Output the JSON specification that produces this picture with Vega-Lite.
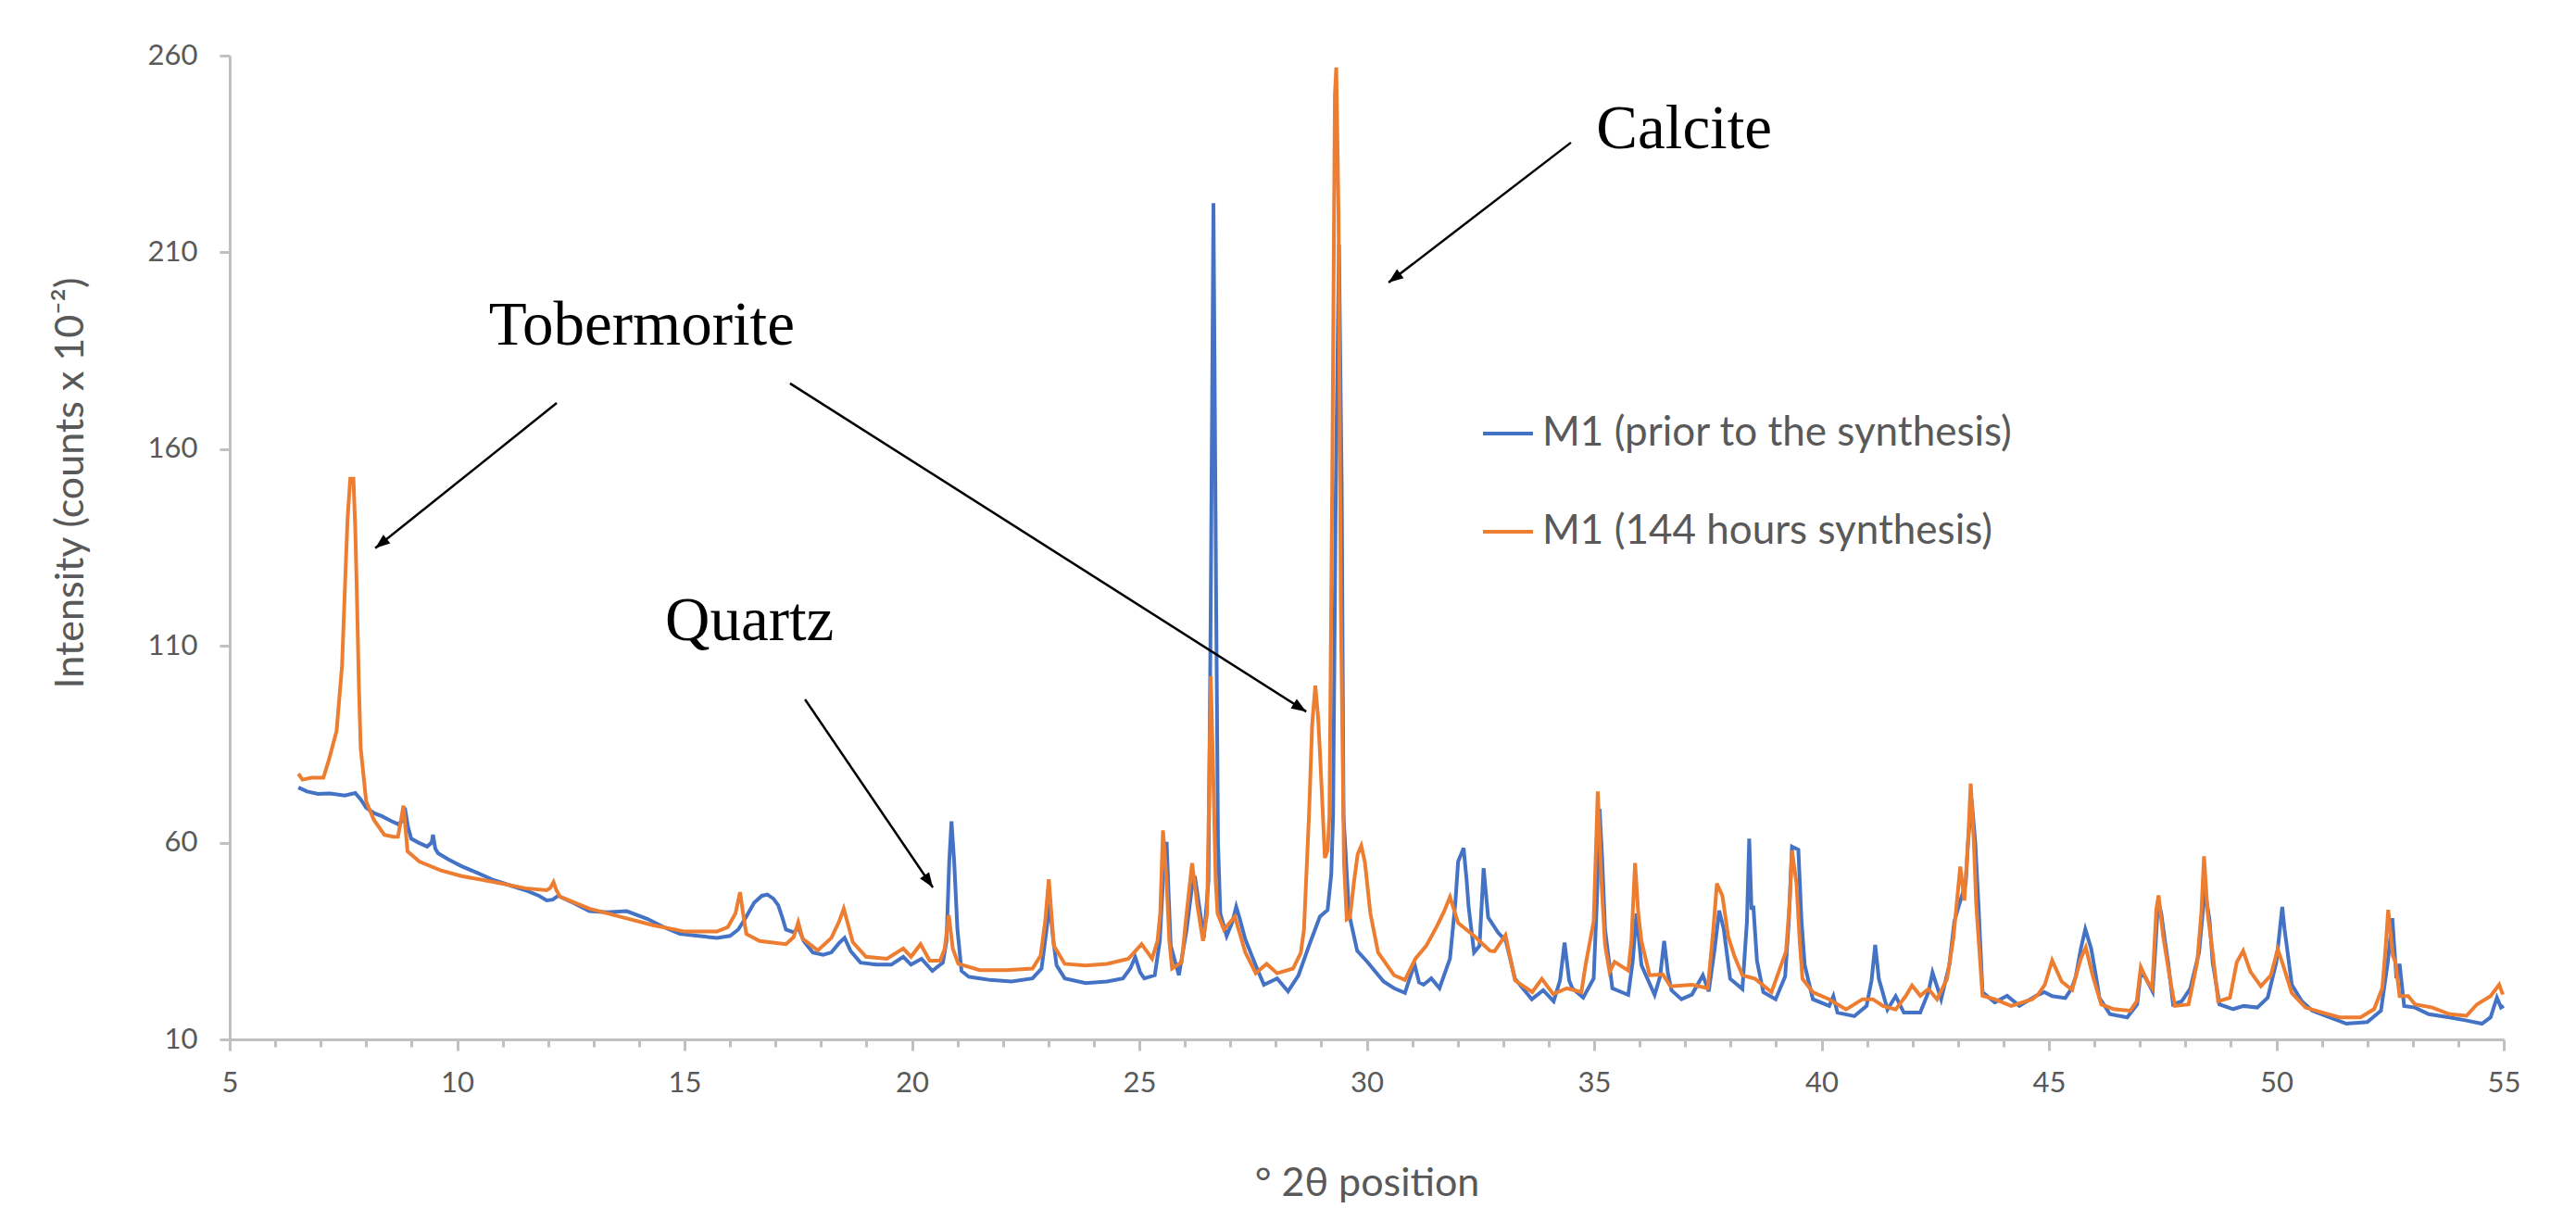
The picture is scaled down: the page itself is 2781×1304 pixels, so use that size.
{
"$schema": "https://vega.github.io/schema/vega-lite/v6.json",
"width": 2455, "height": 1062,
"autosize": {"type": "none"},
"padding": {"left": 248, "top": 60, "right": 78, "bottom": 182},
"background": "white",
"config": {"view": {"stroke": null}, "font": "Lato"},
"datasets": {
"prior": [
{"theta":6.51,"intensity":74},{"theta":6.7,"intensity":73},{"theta":6.94,"intensity":72.4},{"theta":7.2,"intensity":72.5},{"theta":7.53,"intensity":72},{"theta":7.76,"intensity":72.6},{"theta":7.88,"intensity":71},{"theta":8.0,"intensity":68.9},{"theta":8.17,"intensity":67.5},{"theta":8.35,"intensity":66.7},{"theta":8.55,"intensity":65.5},{"theta":8.7,"intensity":64.7},{"theta":8.8,"intensity":65.5},{"theta":8.85,"intensity":68.9},{"theta":8.92,"intensity":64},{"theta":8.99,"intensity":61},{"theta":9.15,"intensity":60},{"theta":9.34,"intensity":59},{"theta":9.44,"intensity":60},{"theta":9.47,"intensity":62},{"theta":9.52,"intensity":58.5},{"theta":9.58,"intensity":57.3},{"theta":9.8,"intensity":55.8},{"theta":10.1,"intensity":54},{"theta":10.45,"intensity":52.3},{"theta":10.8,"intensity":50.5},{"theta":11.15,"intensity":49.2},{"theta":11.5,"intensity":47.9},{"theta":11.8,"intensity":46.5},{"theta":11.97,"intensity":45.3},{"theta":12.1,"intensity":45.5},{"theta":12.22,"intensity":46.5},{"theta":12.5,"intensity":45},{"theta":12.91,"intensity":42.6},{"theta":13.3,"intensity":42.3},{"theta":13.73,"intensity":42.6},{"theta":14.19,"intensity":40.6},{"theta":14.55,"intensity":38.5},{"theta":14.9,"intensity":36.8},{"theta":15.3,"intensity":36.3},{"theta":15.71,"intensity":35.8},{"theta":16.0,"intensity":36.3},{"theta":16.18,"intensity":37.9},{"theta":16.35,"intensity":41},{"theta":16.53,"intensity":44.7},{"theta":16.7,"intensity":46.5},{"theta":16.82,"intensity":46.8},{"theta":16.95,"intensity":45.8},{"theta":17.06,"intensity":44.1},{"theta":17.15,"intensity":41},{"theta":17.23,"intensity":37.9},{"theta":17.4,"intensity":37.2},{"theta":17.5,"intensity":38.5},{"theta":17.62,"intensity":35},{"theta":17.82,"intensity":32.1},{"theta":18.05,"intensity":31.5},{"theta":18.23,"intensity":32.1},{"theta":18.4,"intensity":34.5},{"theta":18.52,"intensity":35.8},{"theta":18.65,"intensity":32.5},{"theta":18.87,"intensity":29.5},{"theta":19.22,"intensity":29},{"theta":19.55,"intensity":29},{"theta":19.81,"intensity":31},{"theta":19.98,"intensity":29},{"theta":20.21,"intensity":30.5},{"theta":20.45,"intensity":27.4},{"theta":20.68,"intensity":29.5},{"theta":20.76,"intensity":35},{"theta":20.82,"intensity":55},{"theta":20.87,"intensity":65.4},{"theta":20.93,"intensity":55},{"theta":21.0,"intensity":38},{"theta":21.09,"intensity":27.4},{"theta":21.25,"intensity":25.9},{"theta":21.5,"intensity":25.5},{"theta":21.72,"intensity":25.1},{"theta":22.19,"intensity":24.7},{"theta":22.65,"intensity":25.5},{"theta":22.85,"intensity":28},{"theta":22.95,"intensity":37},{"theta":23.03,"intensity":44.5},{"theta":23.1,"intensity":36},{"theta":23.18,"intensity":28.8},{"theta":23.36,"intensity":25.5},{"theta":23.82,"intensity":24.3},{"theta":24.29,"intensity":24.7},{"theta":24.64,"intensity":25.5},{"theta":24.8,"intensity":28},{"theta":24.91,"intensity":30.9},{"theta":25.02,"intensity":27},{"theta":25.11,"intensity":25.5},{"theta":25.34,"intensity":26.3},{"theta":25.45,"intensity":35},{"theta":25.52,"intensity":50.3},{"theta":25.6,"intensity":60.2},{"theta":25.65,"intensity":45},{"theta":25.69,"intensity":33.8},{"theta":25.87,"intensity":26.3},{"theta":26.04,"intensity":37.9},{"theta":26.15,"intensity":48},{"theta":26.22,"intensity":51.5},{"theta":26.34,"intensity":42},{"theta":26.42,"intensity":35.8},{"theta":26.52,"intensity":50.3},{"theta":26.57,"intensity":120},{"theta":26.63,"intensity":222.5},{"theta":26.69,"intensity":120},{"theta":26.73,"intensity":60},{"theta":26.78,"intensity":42},{"theta":26.92,"intensity":36.3},{"theta":27.05,"intensity":40},{"theta":27.13,"intensity":43.7},{"theta":27.2,"intensity":41},{"theta":27.33,"intensity":35.4},{"theta":27.56,"intensity":28.8},{"theta":27.74,"intensity":23.9},{"theta":28.03,"intensity":25.5},{"theta":28.27,"intensity":22.2},{"theta":28.5,"intensity":26.3},{"theta":28.73,"intensity":33.8},{"theta":28.97,"intensity":41.2},{"theta":29.14,"intensity":42.9},{"theta":29.22,"intensity":52},{"theta":29.26,"intensity":66.8},{"theta":29.32,"intensity":150},{"theta":29.39,"intensity":212},{"theta":29.45,"intensity":150},{"theta":29.49,"intensity":66.8},{"theta":29.61,"intensity":42},{"theta":29.79,"intensity":32.5},{"theta":30.02,"intensity":29.6},{"theta":30.37,"intensity":24.7},{"theta":30.6,"intensity":23},{"theta":30.84,"intensity":21.8},{"theta":31.05,"intensity":29.2},{"theta":31.15,"intensity":24.5},{"theta":31.25,"intensity":23.9},{"theta":31.42,"intensity":25.5},{"theta":31.6,"intensity":23},{"theta":31.83,"intensity":30.5},{"theta":31.95,"intensity":45},{"theta":32.01,"intensity":55.2},{"theta":32.13,"intensity":58.6},{"theta":32.2,"intensity":50},{"theta":32.24,"intensity":43.7},{"theta":32.36,"intensity":32.1},{"theta":32.48,"intensity":33.8},{"theta":32.57,"intensity":53.5},{"theta":32.67,"intensity":41},{"theta":32.89,"intensity":37.1},{"theta":33.06,"intensity":35},{"theta":33.26,"intensity":25.4},{"theta":33.63,"intensity":20.2},{"theta":33.88,"intensity":22.5},{"theta":34.11,"intensity":19.7},{"theta":34.25,"intensity":25},{"theta":34.35,"intensity":34.6},{"theta":34.45,"intensity":25},{"theta":34.52,"intensity":23},{"theta":34.76,"intensity":20.6},{"theta":34.99,"intensity":25.5},{"theta":35.06,"intensity":45},{"theta":35.12,"intensity":68.6},{"theta":35.18,"intensity":55},{"theta":35.24,"intensity":38},{"theta":35.4,"intensity":23},{"theta":35.75,"intensity":21.3},{"theta":35.85,"intensity":30},{"theta":35.93,"intensity":42},{"theta":36.04,"intensity":28.9},{"theta":36.33,"intensity":21.3},{"theta":36.45,"intensity":26},{"theta":36.54,"intensity":35},{"theta":36.62,"intensity":27},{"theta":36.7,"intensity":22.5},{"theta":36.92,"intensity":20.2},{"theta":37.15,"intensity":21.4},{"theta":37.39,"intensity":26.3},{"theta":37.52,"intensity":22.2},{"theta":37.65,"intensity":33},{"theta":37.75,"intensity":42.7},{"theta":37.85,"intensity":38},{"theta":37.99,"intensity":25.4},{"theta":38.26,"intensity":22.8},{"theta":38.36,"intensity":40},{"theta":38.41,"intensity":61},{"theta":38.46,"intensity":43},{"theta":38.5,"intensity":44},{"theta":38.58,"intensity":30},{"theta":38.72,"intensity":22},{"theta":38.99,"intensity":20.2},{"theta":39.2,"intensity":26},{"theta":39.28,"intensity":40},{"theta":39.35,"intensity":59},{"theta":39.49,"intensity":58.2},{"theta":39.56,"intensity":40},{"theta":39.63,"intensity":28.9},{"theta":39.81,"intensity":20.2},{"theta":40.17,"intensity":18.5},{"theta":40.26,"intensity":21},{"theta":40.35,"intensity":16.8},{"theta":40.72,"intensity":15.9},{"theta":40.99,"intensity":18.5},{"theta":41.1,"intensity":25},{"theta":41.18,"intensity":34},{"theta":41.26,"intensity":25.4},{"theta":41.45,"intensity":17.6},{"theta":41.63,"intensity":21},{"theta":41.81,"intensity":16.8},{"theta":42.17,"intensity":16.8},{"theta":42.35,"intensity":22},{"theta":42.44,"intensity":27},{"theta":42.63,"intensity":20.2},{"theta":42.81,"intensity":28.9},{"theta":42.92,"intensity":40},{"theta":43.03,"intensity":44.4},{"theta":43.17,"intensity":49.6},{"theta":43.22,"intensity":60},{"theta":43.3,"intensity":71},{"theta":43.38,"intensity":60},{"theta":43.45,"intensity":44.4},{"theta":43.54,"intensity":22},{"theta":43.81,"intensity":19.4},{"theta":44.08,"intensity":21.1},{"theta":44.35,"intensity":18.5},{"theta":44.72,"intensity":21.1},{"theta":44.9,"intensity":22},{"theta":45.07,"intensity":21},{"theta":45.36,"intensity":20.5},{"theta":45.5,"intensity":23},{"theta":45.59,"intensity":26},{"theta":45.7,"intensity":33},{"theta":45.8,"intensity":38},{"theta":45.93,"intensity":33},{"theta":46.05,"intensity":25},{"theta":46.11,"intensity":20.6},{"theta":46.34,"intensity":16.4},{"theta":46.72,"intensity":15.6},{"theta":46.94,"intensity":18.9},{"theta":47.02,"intensity":27.2},{"theta":47.13,"intensity":25.5},{"theta":47.28,"intensity":22.2},{"theta":47.35,"intensity":35},{"theta":47.4,"intensity":45.3},{"theta":47.47,"intensity":42},{"theta":47.55,"intensity":35},{"theta":47.62,"intensity":29.6},{"theta":47.73,"intensity":18.9},{"theta":47.92,"intensity":19.7},{"theta":48.11,"intensity":23},{"theta":48.3,"intensity":32.1},{"theta":48.38,"intensity":42},{"theta":48.43,"intensity":47.8},{"theta":48.53,"intensity":40.4},{"theta":48.6,"intensity":29.6},{"theta":48.75,"intensity":18.9},{"theta":49.05,"intensity":17.7},{"theta":49.28,"intensity":18.5},{"theta":49.58,"intensity":18.1},{"theta":49.81,"intensity":20.6},{"theta":50.0,"intensity":29.6},{"theta":50.13,"intensity":43.7},{"theta":50.18,"intensity":38},{"theta":50.22,"intensity":34.6},{"theta":50.34,"intensity":23.9},{"theta":50.56,"intensity":19.7},{"theta":50.79,"intensity":17.3},{"theta":51.17,"intensity":15.6},{"theta":51.54,"intensity":14},{"theta":52.0,"intensity":14.4},{"theta":52.3,"intensity":17.3},{"theta":52.45,"intensity":29.6},{"theta":52.55,"intensity":40.8},{"theta":52.64,"intensity":25.5},{"theta":52.71,"intensity":29.2},{"theta":52.81,"intensity":18.5},{"theta":53.05,"intensity":18.1},{"theta":53.35,"intensity":16.4},{"theta":53.81,"intensity":15.6},{"theta":54.18,"intensity":14.8},{"theta":54.52,"intensity":14},{"theta":54.71,"intensity":15.6},{"theta":54.85,"intensity":20.6},{"theta":54.94,"intensity":18.1},{"theta":55.0,"intensity":18.5}
],
"synth": [
{"theta":6.51,"intensity":77.5},{"theta":6.6,"intensity":76},{"theta":6.8,"intensity":76.5},{"theta":7.06,"intensity":76.5},{"theta":7.18,"intensity":81},{"theta":7.35,"intensity":88.4},{"theta":7.47,"intensity":105},{"theta":7.55,"intensity":130},{"theta":7.59,"intensity":142},{"theta":7.65,"intensity":152.5},{"theta":7.72,"intensity":152.5},{"theta":7.76,"intensity":140},{"theta":7.79,"intensity":126},{"theta":7.84,"intensity":100},{"theta":7.88,"intensity":84},{"theta":8.0,"intensity":70.5},{"theta":8.17,"intensity":65.8},{"theta":8.4,"intensity":62},{"theta":8.6,"intensity":61.5},{"theta":8.7,"intensity":61.5},{"theta":8.77,"intensity":66},{"theta":8.82,"intensity":69.4},{"theta":8.87,"intensity":63},{"theta":8.91,"intensity":57.8},{"theta":9.17,"intensity":55.2},{"theta":9.63,"intensity":53},{"theta":10.1,"intensity":51.5},{"theta":10.8,"intensity":50},{"theta":11.5,"intensity":48.4},{"theta":11.97,"intensity":47.9},{"theta":12.05,"intensity":48.5},{"theta":12.12,"intensity":50},{"theta":12.18,"intensity":48},{"theta":12.26,"intensity":46.3},{"theta":12.91,"intensity":43.2},{"theta":13.61,"intensity":41.1},{"theta":14.31,"intensity":39},{"theta":15.01,"intensity":37.4},{"theta":15.71,"intensity":37.4},{"theta":15.95,"intensity":38.5},{"theta":16.12,"intensity":42},{"theta":16.22,"intensity":47.4},{"theta":16.3,"intensity":41},{"theta":16.36,"intensity":36.8},{"theta":16.65,"intensity":35},{"theta":17.23,"intensity":34.2},{"theta":17.4,"intensity":36},{"theta":17.5,"intensity":39.8},{"theta":17.6,"intensity":35.5},{"theta":17.7,"intensity":34.7},{"theta":17.93,"intensity":32.6},{"theta":18.23,"intensity":35.8},{"theta":18.4,"intensity":40},{"theta":18.5,"intensity":43.2},{"theta":18.6,"intensity":39},{"theta":18.7,"intensity":34.7},{"theta":18.99,"intensity":31},{"theta":19.45,"intensity":30.5},{"theta":19.81,"intensity":33.1},{"theta":19.98,"intensity":31},{"theta":20.19,"intensity":34.2},{"theta":20.39,"intensity":30},{"theta":20.62,"intensity":30},{"theta":20.72,"intensity":33},{"theta":20.81,"intensity":41.6},{"theta":20.9,"intensity":33},{"theta":21.02,"intensity":29.2},{"theta":21.49,"intensity":27.6},{"theta":22.07,"intensity":27.6},{"theta":22.65,"intensity":28},{"theta":22.83,"intensity":31.3},{"theta":22.93,"intensity":40},{"theta":23.01,"intensity":50.7},{"theta":23.08,"intensity":40},{"theta":23.12,"intensity":33.8},{"theta":23.36,"intensity":29.2},{"theta":23.82,"intensity":28.8},{"theta":24.29,"intensity":29.2},{"theta":24.76,"intensity":30.5},{"theta":25.05,"intensity":34.2},{"theta":25.28,"intensity":30.5},{"theta":25.4,"intensity":35},{"theta":25.46,"intensity":42},{"theta":25.52,"intensity":63.1},{"theta":25.6,"intensity":50.3},{"theta":25.66,"intensity":35},{"theta":25.72,"intensity":28},{"theta":25.93,"intensity":29.6},{"theta":26.04,"intensity":42},{"theta":26.16,"intensity":54.8},{"theta":26.28,"intensity":43.7},{"theta":26.4,"intensity":35},{"theta":26.49,"intensity":42},{"theta":26.53,"intensity":70},{"theta":26.57,"intensity":102.3},{"theta":26.63,"intensity":75},{"theta":26.68,"intensity":50},{"theta":26.72,"intensity":42},{"theta":26.86,"intensity":37.9},{"theta":27.1,"intensity":41.2},{"theta":27.33,"intensity":32.1},{"theta":27.56,"intensity":26.8},{"theta":27.8,"intensity":29.2},{"theta":28.03,"intensity":26.8},{"theta":28.38,"intensity":28},{"theta":28.55,"intensity":32},{"theta":28.62,"intensity":37.9},{"theta":28.73,"intensity":66.8},{"theta":28.8,"intensity":90},{"theta":28.87,"intensity":99.9},{"theta":28.93,"intensity":92},{"theta":28.97,"intensity":83.3},{"theta":29.08,"intensity":56.1},{"theta":29.14,"intensity":58},{"theta":29.18,"intensity":66.8},{"theta":29.24,"intensity":150},{"theta":29.3,"intensity":250},{"theta":29.33,"intensity":257},{"theta":29.38,"intensity":220},{"theta":29.43,"intensity":120},{"theta":29.5,"intensity":55},{"theta":29.56,"intensity":40.5},{"theta":29.63,"intensity":41},{"theta":29.72,"intensity":50},{"theta":29.8,"intensity":57},{"theta":29.88,"intensity":59.2},{"theta":29.96,"intensity":55},{"theta":30.08,"intensity":42},{"theta":30.25,"intensity":32.1},{"theta":30.6,"intensity":26.3},{"theta":30.84,"intensity":25.1},{"theta":31.07,"intensity":30.5},{"theta":31.31,"intensity":33.8},{"theta":31.54,"intensity":38.7},{"theta":31.7,"intensity":42.5},{"theta":31.83,"intensity":46.2},{"theta":32.01,"intensity":39.6},{"theta":32.36,"intensity":36.3},{"theta":32.71,"intensity":32.5},{"theta":32.81,"intensity":32.4},{"theta":33.05,"intensity":36.5},{"theta":33.26,"intensity":25},{"theta":33.64,"intensity":22},{"theta":33.85,"intensity":25.4},{"theta":34.1,"intensity":21.5},{"theta":34.4,"intensity":23},{"theta":34.72,"intensity":22},{"theta":34.81,"intensity":28.8},{"theta":34.99,"intensity":40},{"theta":35.08,"intensity":73},{"theta":35.16,"intensity":50.3},{"theta":35.24,"intensity":34},{"theta":35.34,"intensity":27.2},{"theta":35.45,"intensity":29.7},{"theta":35.75,"intensity":27.5},{"theta":35.82,"intensity":35},{"theta":35.9,"intensity":54.8},{"theta":35.97,"intensity":42},{"theta":36.04,"intensity":35},{"theta":36.22,"intensity":26.3},{"theta":36.51,"intensity":26.5},{"theta":36.68,"intensity":23.5},{"theta":37.15,"intensity":23.9},{"theta":37.5,"intensity":23},{"theta":37.62,"intensity":37.9},{"theta":37.7,"intensity":49.6},{"theta":37.82,"intensity":46.5},{"theta":37.95,"intensity":36},{"theta":38.09,"intensity":31},{"theta":38.26,"intensity":26.3},{"theta":38.54,"intensity":25.4},{"theta":38.9,"intensity":22},{"theta":39.22,"intensity":32.4},{"theta":39.3,"intensity":45},{"theta":39.35,"intensity":58},{"theta":39.45,"intensity":49.6},{"theta":39.52,"intensity":35},{"theta":39.58,"intensity":25.4},{"theta":39.81,"intensity":22},{"theta":40.17,"intensity":20.2},{"theta":40.54,"intensity":17.6},{"theta":40.9,"intensity":20.2},{"theta":41.13,"intensity":20.2},{"theta":41.35,"intensity":18.5},{"theta":41.63,"intensity":17.6},{"theta":41.85,"intensity":21},{"theta":41.99,"intensity":23.7},{"theta":42.17,"intensity":21.1},{"theta":42.35,"intensity":22.8},{"theta":42.54,"intensity":20.2},{"theta":42.76,"intensity":25.4},{"theta":42.9,"intensity":35.8},{"theta":43.05,"intensity":53.9},{"theta":43.14,"intensity":45.3},{"theta":43.22,"intensity":60},{"theta":43.28,"intensity":75},{"theta":43.35,"intensity":60},{"theta":43.4,"intensity":44.4},{"theta":43.54,"intensity":21.1},{"theta":43.81,"intensity":20.2},{"theta":44.17,"intensity":18.5},{"theta":44.63,"intensity":20.2},{"theta":44.76,"intensity":21.4},{"theta":44.91,"intensity":23.9},{"theta":45.07,"intensity":30.1},{"theta":45.28,"intensity":24.7},{"theta":45.51,"intensity":22.6},{"theta":45.7,"intensity":30.5},{"theta":45.81,"intensity":33.4},{"theta":45.96,"intensity":26.3},{"theta":46.15,"intensity":18.9},{"theta":46.42,"intensity":17.7},{"theta":46.79,"intensity":17.3},{"theta":46.93,"intensity":19.7},{"theta":47.02,"intensity":28.4},{"theta":47.17,"intensity":24.7},{"theta":47.27,"intensity":23},{"theta":47.36,"intensity":42.9},{"theta":47.41,"intensity":46.6},{"theta":47.51,"intensity":36.3},{"theta":47.66,"intensity":25.5},{"theta":47.77,"intensity":18.5},{"theta":48.07,"intensity":18.9},{"theta":48.26,"intensity":29.6},{"theta":48.35,"intensity":42},{"theta":48.41,"intensity":56.5},{"theta":48.49,"intensity":42},{"theta":48.6,"intensity":32.1},{"theta":48.72,"intensity":19.7},{"theta":48.98,"intensity":20.6},{"theta":49.13,"intensity":29.6},{"theta":49.27,"intensity":32.5},{"theta":49.43,"intensity":27.2},{"theta":49.66,"intensity":23.5},{"theta":49.88,"intensity":26.3},{"theta":50.03,"intensity":32.9},{"theta":50.15,"intensity":28.8},{"theta":50.34,"intensity":21.8},{"theta":50.64,"intensity":18.1},{"theta":51.02,"intensity":16.8},{"theta":51.39,"intensity":15.6},{"theta":51.85,"intensity":15.6},{"theta":52.15,"intensity":17.7},{"theta":52.33,"intensity":23},{"theta":52.4,"intensity":33},{"theta":52.46,"intensity":42.9},{"theta":52.56,"intensity":31.3},{"theta":52.62,"intensity":29.6},{"theta":52.71,"intensity":21},{"theta":52.9,"intensity":21},{"theta":53.05,"intensity":18.9},{"theta":53.43,"intensity":18.1},{"theta":53.81,"intensity":16.4},{"theta":54.18,"intensity":16},{"theta":54.41,"intensity":18.9},{"theta":54.71,"intensity":21},{"theta":54.9,"intensity":23.9},{"theta":54.98,"intensity":21.4}
],
"labels": [
{"text":"Tobermorite","theta":14.06,"intensity":186.6},
{"text":"Calcite","theta":36.98,"intensity":236.5},
{"text":"Quartz","theta":16.43,"intensity":111.5}
],
"arrows": [
{"name":"tobL","theta":12.19,"intensity":171.7,"theta2":8.2,"intensity2":134.8},
{"name":"tobR","theta":17.32,"intensity":176.7,"theta2":28.67,"intensity2":93.3},
{"name":"quartz","theta":17.65,"intensity":96.4,"theta2":20.46,"intensity2":48.6},
{"name":"calcite","theta":34.49,"intensity":237.9,"theta2":30.48,"intensity2":202.3}
]
},
"layer": [
{"data": {"name": "prior"},
 "mark": {"type": "line", "strokeWidth": 4, "interpolate": "linear"},
 "encoding": {
  "x": {"field": "theta", "type": "quantitative",
   "scale": {"domain": [5, 55], "nice": false, "zero": false},
   "axis": {"title": "° 2θ position", "titleFont": "Lato", "titleFontSize": 43, "titleFontWeight": "normal", "titleColor": "#595959", "titleY": 168, "titleBaseline": "alphabetic",
    "values": [5,6,7,8,9,10,11,12,13,14,15,16,17,18,19,20,21,22,23,24,25,26,27,28,29,30,31,32,33,34,35,36,37,38,39,40,41,42,43,44,45,46,47,48,49,50,51,52,53,54,55],
    "labelExpr": "datum.value % 5 === 0 ? datum.label : ''",
    "labelFont": "Lato", "labelFontSize": 31, "labelColor": "#595959", "labelPadding": 20, "labelFlush": false, "labelOverlap": false,
    "tickSize": {"condition": {"test": "datum.value % 5 === 0", "value": 12}, "value": 8},
    "tickColor": "#C0C0C0", "tickWidth": 3, "domainColor": "#C0C0C0", "domainWidth": 3, "grid": false}},
  "y": {"field": "intensity", "type": "quantitative",
   "scale": {"domain": [10, 260], "nice": false, "zero": false},
   "axis": {"title": "Intensity (counts x 10⁻²)", "titleFont": "Lato", "titleFontSize": 43, "titleFontWeight": "normal", "titleColor": "#595959", "titleX": -159, "titleY": 461, "titleBaseline": "alphabetic", "titleAlign": "center", "titleAngle": 270,
    "values": [10, 60, 110, 160, 210, 260],
    "labelFont": "Lato", "labelFontSize": 31, "labelColor": "#595959", "labelPadding": 24,
    "tickSize": 11, "tickColor": "#C0C0C0", "tickWidth": 3, "domainColor": "#C0C0C0", "domainWidth": 3, "grid": false}},
  "color": {"datum": "M1 (prior to the synthesis)", "type": "nominal",
   "scale": {"domain": ["M1 (prior to the synthesis)", "M1 (144 hours synthesis)"], "range": ["#4472C4", "#ED7D31"]},
   "legend": {"orient": "none", "legendX": 1351, "legendY": 379, "title": null, "padding": 0,
    "symbolType": "stroke", "symbolSize": 2916, "symbolStrokeWidth": 4,
    "labelFont": "Lato", "labelFontSize": 44, "labelColor": "#595959", "labelOffset": 8, "labelLimit": 1000, "rowPadding": 55}}
 }},
{"data": {"name": "synth"},
 "mark": {"type": "line", "strokeWidth": 4, "interpolate": "linear"},
 "encoding": {
  "x": {"field": "theta", "type": "quantitative"},
  "y": {"field": "intensity", "type": "quantitative"},
  "color": {"datum": "M1 (144 hours synthesis)", "type": "nominal"}
 }},
{"data": {"name": "arrows"},
 "mark": {"type": "rule", "color": "black", "strokeWidth": 2.5},
 "encoding": {
  "x": {"field": "theta", "type": "quantitative"},
  "y": {"field": "intensity", "type": "quantitative"},
  "x2": {"field": "theta2"},
  "y2": {"field": "intensity2"}
 }},
{"data": {"name": "arrows"}, "transform": [{"filter": "datum.name === 'tobL'"}],
 "mark": {"type": "point", "shape": "M0,0L-0.75,2L0.75,2Z", "filled": true, "color": "black", "opacity": 1, "size": 256, "angle": 231.3, "strokeWidth": 0},
 "encoding": {"x": {"field": "theta2", "type": "quantitative"}, "y": {"field": "intensity2", "type": "quantitative"}}},
{"data": {"name": "arrows"}, "transform": [{"filter": "datum.name === 'tobR'"}],
 "mark": {"type": "point", "shape": "M0,0L-0.75,2L0.75,2Z", "filled": true, "color": "black", "opacity": 1, "size": 256, "angle": 122.4, "strokeWidth": 0},
 "encoding": {"x": {"field": "theta2", "type": "quantitative"}, "y": {"field": "intensity2", "type": "quantitative"}}},
{"data": {"name": "arrows"}, "transform": [{"filter": "datum.name === 'quartz'"}],
 "mark": {"type": "point", "shape": "M0,0L-0.75,2L0.75,2Z", "filled": true, "color": "black", "opacity": 1, "size": 256, "angle": 145.8, "strokeWidth": 0},
 "encoding": {"x": {"field": "theta2", "type": "quantitative"}, "y": {"field": "intensity2", "type": "quantitative"}}},
{"data": {"name": "arrows"}, "transform": [{"filter": "datum.name === 'calcite'"}],
 "mark": {"type": "point", "shape": "M0,0L-0.75,2L0.75,2Z", "filled": true, "color": "black", "opacity": 1, "size": 256, "angle": 232.5, "strokeWidth": 0},
 "encoding": {"x": {"field": "theta2", "type": "quantitative"}, "y": {"field": "intensity2", "type": "quantitative"}}},
{"data": {"name": "labels"},
 "mark": {"type": "text", "font": "Liberation Serif", "fontSize": 67, "color": "black", "align": "center", "baseline": "alphabetic"},
 "encoding": {
  "x": {"field": "theta", "type": "quantitative"},
  "y": {"field": "intensity", "type": "quantitative"},
  "text": {"field": "text"}
 }}
]
}
